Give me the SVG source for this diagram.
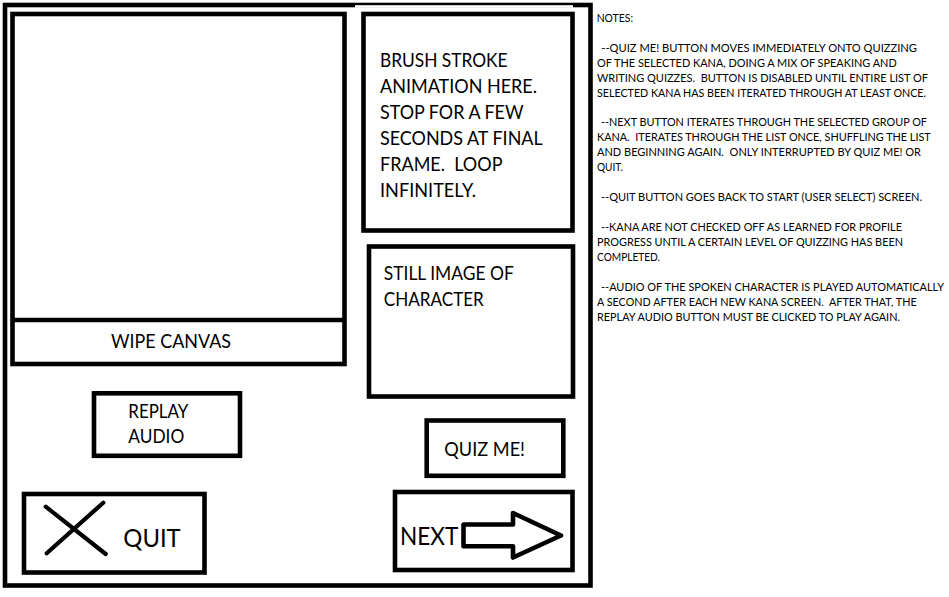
<svg xmlns="http://www.w3.org/2000/svg" width="949" height="597" viewBox="0 0 949 597">
<style>
.box{fill:#fff;stroke:#000;stroke-width:4.6}
.lbl{font-family:Lato,"Open Sans","Liberation Sans",sans-serif;font-size:18.5px;fill:#000}
.big{font-family:Lato,"Open Sans","Liberation Sans",sans-serif;font-size:24.5px;fill:#000}
.note{font-family:Lato,"Open Sans","Liberation Sans",sans-serif;font-size:10.5px;fill:#000}
</style>
<rect width="949" height="597" fill="#fff"/>
<g id="frame">
<rect x="5" y="5" width="585.5" height="580.5" fill="none" stroke="#000" stroke-width="4.6"/>
<rect x="355" y="5.2" width="218" height="2.6" fill="#fff"/>
</g>
<g id="canvas">
<rect class="box" x="12.5" y="14" width="332" height="350"/>
<line x1="12.5" y1="320" x2="344.5" y2="320" stroke="#000" stroke-width="4.6"/>
<text class="lbl" x="111" y="348.3" textLength="120" lengthAdjust="spacingAndGlyphs">WIPE CANVAS</text>
</g>
<g id="brush-stroke">
<rect class="box" x="363.5" y="14" width="209" height="216.5"/>
<text class="lbl" x="380" y="66.7" textLength="127.6" lengthAdjust="spacingAndGlyphs">BRUSH STROKE</text>
<text class="lbl" x="380" y="92.7" textLength="157" lengthAdjust="spacingAndGlyphs">ANIMATION HERE.</text>
<text class="lbl" x="380" y="118.7" textLength="143.5" lengthAdjust="spacingAndGlyphs">STOP FOR A FEW</text>
<text class="lbl" x="380" y="144.7" textLength="162.7" lengthAdjust="spacingAndGlyphs">SECONDS AT FINAL</text>
<text class="lbl" x="380" y="170.7" textLength="122.5" lengthAdjust="spacingAndGlyphs" xml:space="preserve">FRAME.  LOOP</text>
<text class="lbl" x="380" y="196.7" textLength="96" lengthAdjust="spacingAndGlyphs">INFINITELY.</text>
</g>
<g id="still-image">
<rect class="box" x="369" y="246.5" width="204" height="150"/>
<text class="lbl" x="383.8" y="280" textLength="130" lengthAdjust="spacingAndGlyphs">STILL IMAGE OF</text>
<text class="lbl" x="383.8" y="306" textLength="100" lengthAdjust="spacingAndGlyphs">CHARACTER</text>
</g>
<g id="replay-audio">
<rect class="box" x="94" y="393.3" width="146" height="62.5"/>
<text class="lbl" x="128.3" y="418.3" textLength="60" lengthAdjust="spacingAndGlyphs">REPLAY</text>
<text class="lbl" x="128.3" y="443.3" textLength="56" lengthAdjust="spacingAndGlyphs">AUDIO</text>
</g>
<g id="quiz-me">
<rect class="box" x="426.7" y="420.5" width="136.6" height="55.3"/>
<text class="lbl" x="444.3" y="455.7" textLength="80.7" lengthAdjust="spacingAndGlyphs">QUIZ ME!</text>
</g>
<g id="quit">
<rect class="box" x="24" y="494" width="180.5" height="78.5"/>
<g stroke="#000" stroke-width="4.2" stroke-linecap="round">
<line x1="45.7" y1="506.7" x2="105.7" y2="554"/>
<line x1="103.3" y1="502.7" x2="46.7" y2="553.3"/>
</g>
<text class="big" x="123.3" y="546.7" textLength="57.4" lengthAdjust="spacingAndGlyphs">QUIT</text>
</g>
<g id="next">
<rect class="box" x="395" y="492" width="177.5" height="78"/>
<text class="big" x="400" y="545" textLength="58.3" lengthAdjust="spacingAndGlyphs">NEXT</text>
<polygon points="463.5,524.5 513,524.5 513,513 561,535.5 513,557.5 513,546.3 463.5,546.3" fill="#fff" stroke="#000" stroke-width="4.6" stroke-linejoin="round"/>
</g>
<g id="connectors"/>
<g id="notes">
<text class="note" x="596.7" y="21.8" textLength="36.3" lengthAdjust="spacingAndGlyphs">NOTES:</text>
<text class="note" x="601.3" y="51.7" textLength="315.7" lengthAdjust="spacingAndGlyphs">--QUIZ ME! BUTTON MOVES IMMEDIATELY ONTO QUIZZING</text>
<text class="note" x="597" y="66.65" textLength="299.7" lengthAdjust="spacingAndGlyphs">OF THE SELECTED KANA, DOING A MIX OF SPEAKING AND</text>
<text class="note" x="597" y="81.6" textLength="331" lengthAdjust="spacingAndGlyphs" xml:space="preserve">WRITING QUIZZES.  BUTTON IS DISABLED UNTIL ENTIRE LIST OF</text>
<text class="note" x="597" y="96.55" textLength="329" lengthAdjust="spacingAndGlyphs">SELECTED KANA HAS BEEN ITERATED THROUGH AT LEAST ONCE.</text>
<text class="note" x="601" y="126.45" textLength="326" lengthAdjust="spacingAndGlyphs">--NEXT BUTTON ITERATES THROUGH THE SELECTED GROUP OF</text>
<text class="note" x="597" y="141.4" textLength="333.7" lengthAdjust="spacingAndGlyphs" xml:space="preserve">KANA.  ITERATES THROUGH THE LIST ONCE, SHUFFLING THE LIST</text>
<text class="note" x="597" y="156.35" textLength="324" lengthAdjust="spacingAndGlyphs" xml:space="preserve">AND BEGINNING AGAIN.  ONLY INTERRUPTED BY QUIZ ME! OR</text>
<text class="note" x="597" y="171.3" textLength="26" lengthAdjust="spacingAndGlyphs">QUIT.</text>
<text class="note" x="601" y="201.2" textLength="321" lengthAdjust="spacingAndGlyphs">--QUIT BUTTON GOES BACK TO START (USER SELECT) SCREEN.</text>
<text class="note" x="601" y="231.1" textLength="301" lengthAdjust="spacingAndGlyphs">--KANA ARE NOT CHECKED OFF AS LEARNED FOR PROFILE</text>
<text class="note" x="597" y="246.05" textLength="306" lengthAdjust="spacingAndGlyphs">PROGRESS UNTIL A CERTAIN LEVEL OF QUIZZING HAS BEEN</text>
<text class="note" x="597" y="261" textLength="63" lengthAdjust="spacingAndGlyphs">COMPLETED.</text>
<text class="note" x="601" y="290.9" textLength="343" lengthAdjust="spacingAndGlyphs">--AUDIO OF THE SPOKEN CHARACTER IS PLAYED AUTOMATICALLY</text>
<text class="note" x="597" y="305.85" textLength="319.7" lengthAdjust="spacingAndGlyphs" xml:space="preserve">A SECOND AFTER EACH NEW KANA SCREEN.  AFTER THAT, THE</text>
<text class="note" x="597" y="320.8" textLength="303" lengthAdjust="spacingAndGlyphs">REPLAY AUDIO BUTTON MUST BE CLICKED TO PLAY AGAIN.</text>
</g>
</svg>
